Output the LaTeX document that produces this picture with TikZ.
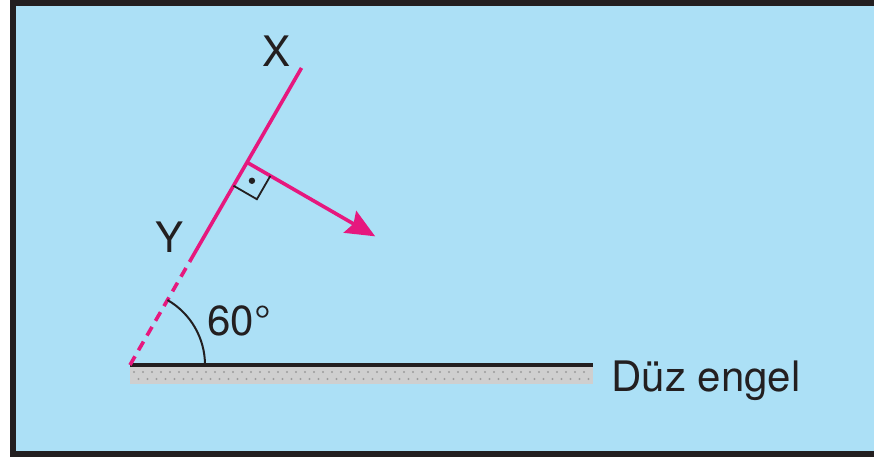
\documentclass[tikz,border=0pt]{standalone}
\usepackage{fontspec}
\setmainfont{TeX Gyre Heros}
\usepackage{tikz}
\usetikzlibrary{arrows.meta,calc}
\definecolor{cSky}{HTML}{ACE0F6}
\definecolor{cRay}{HTML}{E6187E}
\definecolor{cInk}{HTML}{231F20}
\definecolor{cSand}{HTML}{CFCFCF}
\definecolor{cGrain}{HTML}{9C9C9C}
\tikzset{
  ray/.style={draw=cRay,line width=1.8pt},
  raydash/.style={ray,dash pattern=on 5pt off 3.5pt},
  rayarr/.style={ray,-{Stealth[length=14.5pt,width=12.5pt,inset=2pt]}},
  ground/.style={draw=cInk,line width=1.9pt},
  rtangle/.style={draw=cInk,line width=0.9pt},
  lbl/.style={font=\fontsize{21}{25}\selectfont,text=cInk,inner sep=0pt,anchor=base},
}
\begin{document}
\begin{tikzpicture}[x=0.5pt,y=0.5pt]
  \useasboundingbox (0,0) rectangle (874,458);
  \clip (0,0) rectangle (874,458);
  % frame and sky
  \fill[cInk] (10,1) rectangle (884,458);
  \fill[cSky] (16,7) rectangle (880,452);
  % obstacle
  \fill[cSand] (130,74) rectangle (593,92);
  \foreach \gx in {0,...,50}{
    \fill[cGrain] (134+9*\gx,86) circle (1.1);
    \fill[cGrain] (138.5+9*\gx,79) circle (1.1);}
  \coordinate (O) at (130,93);
  \coordinate (G) at (593,93);
  \draw[ground] (O) -- (G);
  % ray, its normal and the right angle
  \coordinate (D) at ($(O)+(60:120)$);
  \coordinate (F) at ($(O)+(60:234)$);
  \coordinate (Xend) at ($(O)+(60:343)$);
  \coordinate (T) at ($(F)+(-30:148)$);
  \draw[raydash] (O) -- (D);
  \draw[ray] (D) -- (Xend);
  \draw[rayarr] (F) -- (T);
  \coordinate (Fa) at ($(F)+(240:27)$);
  \coordinate (Fb) at ($(F)+(330:27)$);
  \coordinate (Fc) at ($(F)+(285:38.2)$);
  \draw[rtangle] (Fa) -- (Fc) -- (Fb);
  \fill[cInk] ($(F)+(285:19.1)$) circle (3.2);
  % angle
  \draw[rtangle,line width=1pt] ($(O)+(75,0)$) arc[start angle=0,end angle=60,radius=37.5pt];
  % labels
  \node[lbl] (lx) at (277,391) {X};
  \node[lbl] (ly) at (170,205) {Y};
  \node[lbl,anchor=base west] (lang) at (207,122) {60°};
  \node[lbl,anchor=base west] (lobs) at (611,66) {Düz engel};
\end{tikzpicture}
\end{document}
